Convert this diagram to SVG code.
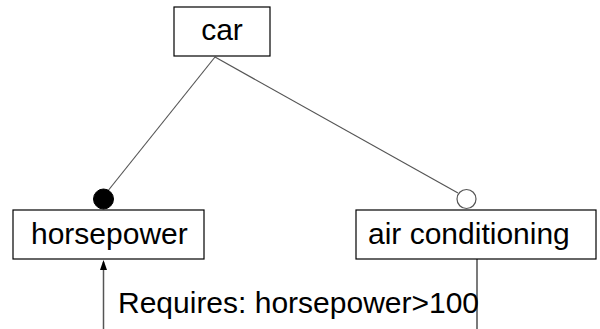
<svg xmlns="http://www.w3.org/2000/svg" width="600" height="329" viewBox="0 0 600 329">
  <style>
    .box { fill: #ffffff; stroke: #000000; stroke-width: 1.2; }
    .label { font-family: "Liberation Sans", Arial, sans-serif; font-size: 30px; fill: #000000; }
    .edge { stroke: #555555; stroke-width: 1.2; fill: none; }
  </style>
  <defs>
    <marker id="arrow" markerWidth="8" markerHeight="10" refX="4" refY="0.5" orient="auto-start-reverse" markerUnits="userSpaceOnUse" viewBox="0 0 8 10">
      <path d="M0,10 L4,0 L8,10 Z" fill="#000000"/>
    </marker>
  </defs>
  <rect width="600" height="329" fill="#ffffff"/>

  <g id="connectors">
    <line class="edge" x1="215" y1="57" x2="107" y2="192"/>
    <line class="edge" x1="215" y1="57" x2="458" y2="193"/>
    <circle cx="103.5" cy="199" r="10" fill="#000000" stroke="#000000"/>
    <circle cx="466.5" cy="199" r="9.5" fill="#ffffff" stroke="#555555" stroke-width="1.2"/>
    <line x1="103.5" y1="329" x2="103.5" y2="262" stroke="#555555" stroke-width="1.5"/>
    <path d="M100,270 L103.5,260 L107,270 Z" fill="#000000"/>
    <line x1="477" y1="259" x2="477" y2="329" stroke="#222222" stroke-width="1.2"/>
    <text class="label" x="118" y="313">Requires: horsepower&gt;100</text>
  </g>

  <g id="car">
    <rect class="box" x="174" y="7" width="96" height="49"/>
    <text class="label" x="222" y="40" text-anchor="middle">car</text>
  </g>

  <g id="horsepower">
    <rect class="box" x="13" y="210" width="191" height="49"/>
    <text class="label" x="31" y="244">horsepower</text>
  </g>

  <g id="air-conditioning">
    <rect class="box" x="356" y="210" width="240" height="49"/>
    <text class="label" x="368" y="244">air conditioning</text>
  </g>
</svg>
